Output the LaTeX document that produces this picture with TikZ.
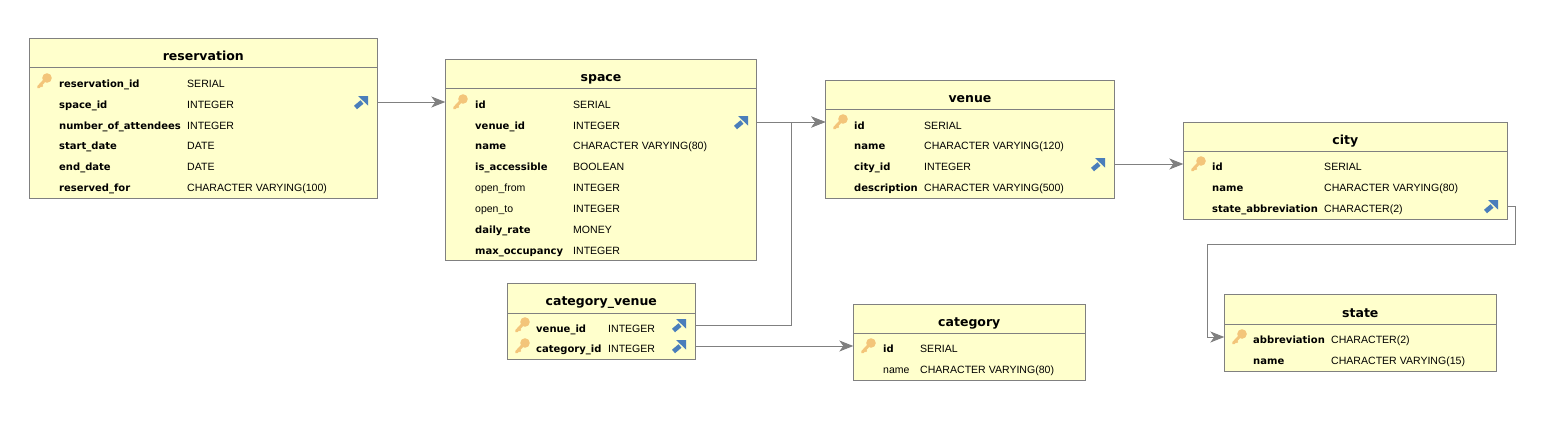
\documentclass[tikz,border=0pt]{standalone}
\usepackage{fontspec}
\setmainfont{Liberation Sans}
\newfontfamily\dejabold{DejaVu Sans Bold}
\usetikzlibrary{arrows.meta}
\definecolor{tablefill}{HTML}{FFFFCC}
\definecolor{tableline}{HTML}{808080}
\definecolor{keygold}{HTML}{F3C57A}
\definecolor{fkblue}{HTML}{4A7EBB}
\begin{document}
\begin{tikzpicture}[x=1pt, y=-1pt,
    tablebox/.style={draw=tableline, fill=tablefill, line width=1pt, anchor=north west, inner sep=0pt, outer sep=0pt},
    headline/.style={draw=tableline, line width=1pt},
    tabletitle/.style={anchor=base, inner sep=0pt, font=\dejabold\fontsize{12.5}{14}\selectfont},
    colbold/.style={anchor=base west, inner sep=0pt, font=\dejabold\fontsize{10}{12}\selectfont},
    colplain/.style={anchor=base west, inner sep=0pt, font=\fontsize{10.5}{12}\selectfont},
    coltype/.style={anchor=base west, inner sep=0pt, font=\fontsize{10.55}{12}\selectfont},
    keyicon/.style={minimum size=18pt, inner sep=0pt, outer sep=0pt, path picture={
        \begin{scope}[shift={(path picture bounding box.center)}]
        \draw[keygold, line width=3pt, line cap=round] (-5.5,6) -- (1,-1);
        \draw[keygold, line width=1.8pt] (-3.5,3.5) -- (-1.5,5.5);
        \fill[keygold] (3,-3) circle (4.8);
        \end{scope}}},
    fkicon/.style={minimum size=18pt, inner sep=0pt, outer sep=0pt, path picture={
        \begin{scope}[shift={(path picture bounding box.center)}]
        \draw[fkblue, line width=4.6pt] (-5.5,5.5) -- (1,0);
        \fill[fkblue] (7,-6) -- (7,3.5) -- (-3,-6) -- cycle;
        \end{scope}}},
    fk/.style={draw=tableline, line width=1pt, -{Stealth[length=14pt, width=11pt, inset=4pt]}}
]
\useasboundingbox (0.7,0.7) rectangle (1542.7,439.7);

% reservation
\node[tablebox, minimum width=348pt, minimum height=160pt] (reservation) at (30,39) {};
\node[tabletitle] (reservation_title) at (204,61) {reservation};
\draw[headline] (reservation.west |- 0,67.7) -- (reservation.east |- 0,67.7);
\foreach \st/\nm/\ty/\yy in {colbold/reservation\_id/SERIAL/83, colbold/space\_id/INTEGER/104,
    colbold/number\_of\_attendees/INTEGER/125, colbold/start\_date/DATE/145,
    colbold/end\_date/DATE/166, colbold/reserved\_for/CHARACTER VARYING(100)/187} {
  \node[\st] (reservation_\yy) at (59.7,\yy+5) {\nm};
  \node[coltype] (reservation_type_\yy) at (187.7,\yy+5) {\ty};
}
\node[keyicon] (reservation_key) at (44.7,81.7) {};
\node[fkicon] (reservation_fk) at (361.7,102.7) {};

% space
\node[tablebox, minimum width=311pt, minimum height=201pt] (space) at (446,60) {};
\node[tabletitle] (space_title) at (601.7,82) {space};
\draw[headline] (space.west |- 0,88.7) -- (space.east |- 0,88.7);
\foreach \st/\nm/\ty/\yy in {colbold/id/SERIAL/104, colbold/venue\_id/INTEGER/125,
    colbold/name/CHARACTER VARYING(80)/145, colbold/is\_accessible/BOOLEAN/166,
    colplain/open\_from/INTEGER/187, colplain/open\_to/INTEGER/208,
    colbold/daily\_rate/MONEY/229, colbold/max\_occupancy/INTEGER/250} {
  \node[\st] (space_\yy) at (475.7,\yy+5) {\nm};
  \node[coltype] (space_type_\yy) at (573.7,\yy+5) {\ty};
}
\node[keyicon] (space_key) at (460.7,102.7) {};
\node[fkicon] (space_fk) at (741.7,122.7) {};

% venue
\node[tablebox, minimum width=289pt, minimum height=118pt] (venue) at (826,81) {};
\node[tabletitle] (venue_title) at (970.7,102.7) {venue};
\draw[headline] (venue.west |- 0,109.7) -- (venue.east |- 0,109.7);
\foreach \st/\nm/\ty/\yy in {colbold/id/SERIAL/125, colbold/name/CHARACTER VARYING(120)/145,
    colbold/city\_id/INTEGER/166, colbold/description/CHARACTER VARYING(500)/187} {
  \node[\st] (venue_\yy) at (854.7,\yy+5) {\nm};
  \node[coltype] (venue_type_\yy) at (924.7,\yy+5) {\ty};
}
\node[keyicon] (venue_key) at (840.7,122.7) {};
\node[fkicon] (venue_fk) at (1098.7,164.7) {};

% city
\node[tablebox, minimum width=324pt, minimum height=97pt] (city) at (1184,123) {};
\node[tabletitle] (city_title) at (1346,144.7) {city};
\draw[headline] (city.west |- 0,151.7) -- (city.east |- 0,151.7);
\foreach \st/\nm/\ty/\yy in {colbold/id/SERIAL/166, colbold/name/CHARACTER VARYING(80)/187,
    colbold/state\_abbreviation/CHARACTER(2)/208} {
  \node[\st] (city_\yy) at (1212.7,\yy+5) {\nm};
  \node[coltype] (city_type_\yy) at (1324.7,\yy+5) {\ty};
}
\node[keyicon] (city_key) at (1198.7,164.7) {};
\node[fkicon] (city_fk) at (1491.7,206.7) {};

% state
\node[tablebox, minimum width=272pt, minimum height=77pt] (state) at (1225,295) {};
\node[tabletitle] (state_title) at (1361,317.7) {state};
\draw[headline] (state.west |- 0,324.7) -- (state.east |- 0,324.7);
\foreach \st/\nm/\ty/\yy in {colbold/abbreviation/CHARACTER(2)/339, colbold/name/CHARACTER VARYING(15)/360} {
  \node[\st] (state_\yy) at (1253.7,\yy+5) {\nm};
  \node[coltype] (state_type_\yy) at (1331.7,\yy+5) {\ty};
}
\node[keyicon] (state_key) at (1239.7,337.7) {};

% category_venue
\node[tablebox, minimum width=188pt, minimum height=76pt] (category_venue) at (508,284) {};
\node[tabletitle] (category_venue_title) at (602,306) {category\_venue};
\draw[headline] (category_venue.west |- 0,313.7) -- (category_venue.east |- 0,313.7);
\foreach \st/\nm/\ty/\yy in {colbold/venue\_id/INTEGER/328, colbold/category\_id/INTEGER/348} {
  \node[\st] (category_venue_\yy) at (536.7,\yy+5) {\nm};
  \node[coltype] (category_venue_type_\yy) at (608.7,\yy+5) {\ty};
}
\node[keyicon] (category_venue_key1) at (522.7,325.7) {};
\node[keyicon] (category_venue_key2) at (522.7,346.7) {};
\node[fkicon] (category_venue_fk1) at (679.7,325.7) {};
\node[fkicon] (category_venue_fk2) at (679.7,346.7) {};

% category
\node[tablebox, minimum width=232pt, minimum height=76pt] (category) at (854,305) {};
\node[tabletitle] (category_title) at (970,326.7) {category};
\draw[headline] (category.west |- 0,333.7) -- (category.east |- 0,333.7);
\foreach \st/\nm/\ty/\yy in {colbold/id/SERIAL/348, colplain/name/CHARACTER VARYING(80)/369} {
  \node[\st] (category_\yy) at (883.7,\yy+5) {\nm};
  \node[coltype] (category_type_\yy) at (920.7,\yy+5) {\ty};
}
\node[keyicon] (category_key) at (868.7,346.7) {};

% connectors
\coordinate (venue_join) at (791.7,122.7);
\coordinate (city_bend1) at (1515.7,244.7);
\coordinate (city_bend2) at (1207.7,244.7);
\draw[fk] (reservation.east |- reservation_fk) -- (space.west |- space_key);
\draw[fk] (space.east |- space_fk) -- (venue.west |- venue_key);
\draw[fk] (category_venue.east |- category_venue_fk1) -| (venue_join) -- (venue.west |- venue_key);
\draw[fk] (category_venue.east |- category_venue_fk2) -- (category.west |- category_key);
\draw[fk] (venue.east |- venue_fk) -- (city.west |- city_key);
\draw[fk] (city.east |- city_fk) -| (city_bend1) -- (city_bend2) |- (state.west |- state_key);

\end{tikzpicture}
\end{document}
